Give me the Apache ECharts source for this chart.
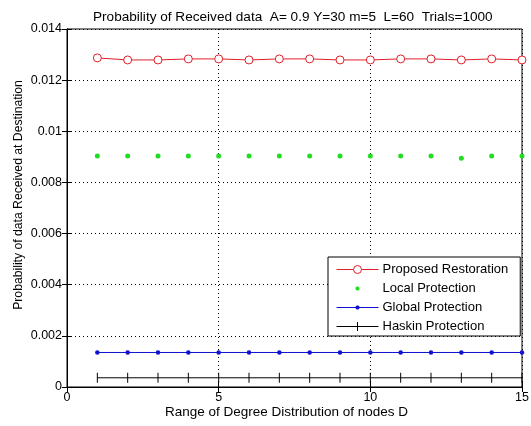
<!DOCTYPE html>
<html><head><meta charset="utf-8">
<script src="https://cdn.jsdelivr.net/npm/echarts@6/dist/echarts.min.js"></script>
<style>html,body{margin:0;padding:0;background:#fff}#c{width:531px;height:426px}</style>
</head><body><div id="c"></div>
<script>
const xValues = [1,2,3,4,5,6,7,8,9,10,11,12,13,14,15];
const proposed = [0.01287,0.01279,0.01279,0.01283,0.01283,0.01279,0.01283,0.01283,0.01279,0.01279,0.01283,0.01283,0.01279,0.01283,0.01279];
const local = [0.00903,0.00903,0.00903,0.00903,0.00903,0.00903,0.00903,0.00903,0.00903,0.00903,0.00903,0.00903,0.00895,0.00903,0.00903];
const globalP = [0.00135,0.00135,0.00135,0.00135,0.00135,0.00135,0.00135,0.00135,0.00135,0.00135,0.00135,0.00135,0.00135,0.00135,0.00135];
const haskin = [0.00036,0.00036,0.00036,0.00036,0.00036,0.00036,0.00036,0.00036,0.00036,0.00036,0.00036,0.00036,0.00036,0.00036,0.00036];
const seriesNames = ['Proposed Restoration','Local Protection','Global Protection','Haskin Protection'];
const titleText = 'Probability of Received data  A= 0.9 Y=30 m=5  L=60  Trials=1000';

const pair = arr => arr.map((v,i)=>[xValues[i], v]);
const font = 'Liberation Sans, Arial, sans-serif';
const chart = echarts.init(document.getElementById('c'), null, {renderer:'canvas'});
const gridLine = {show:true, lineStyle:{color:'#000', type:[1,3], width:1}};
const box = 'M0,0 L0,0 Z M42,10 L42,10 Z ';
const dot = 'M19,4.2 L20.2,3 L21.8,3 L23,4.2 L23,5.8 L21.8,7 L20.2,7 L19,5.8 Z ';
const hline = 'M0,4.5 L42,4.5 L42,5.5 L0,5.5 Z ';
const vtick = 'M20.5,0.5 L21.5,0.5 L21.5,9.5 L20.5,9.5 Z ';
chart.setOption({
  animation:false,
  backgroundColor:'#fff',
  title:{text:titleText, left:88, top:5,
    textStyle:{fontFamily:font, fontSize:13.6, fontWeight:'normal', color:'#000'}},
  grid:{left:67, right:9, top:29, bottom:39, containLabel:false, outerBoundsMode:'none',
    show:true, borderColor:'#000', borderWidth:1},
  legend:{
    orient:'vertical', left:328, top:257, backgroundColor:'#fff', borderColor:'#000', borderWidth:1,
    padding:[6,12,3,8], itemGap:6, itemWidth:42, itemHeight:10,
    textStyle:{fontFamily:font, fontSize:13, color:'#000', padding:[0,0,0,-1]},
    data:[
      {name:seriesNames[0], lineStyle:{width:1}, itemStyle:{borderWidth:1}},
      {name:seriesNames[1], icon:'path://' + box + dot},
      {name:seriesNames[2], icon:'path://' + box + hline + dot},
      {name:seriesNames[3], icon:'path://' + box + hline + vtick}
    ]
  },
  xAxis:[{
    type:'value', min:0, max:15, interval:5,
    axisLine:{show:true, lineStyle:{color:'#000'}},
    axisTick:{show:true, inside:true, length:5, lineStyle:{color:'#000'}},
    axisLabel:{fontFamily:font, fontSize:12.5, color:'#000', margin:4},
    splitLine:gridLine,
    name:'Range of Degree Distribution of nodes D', nameLocation:'middle', nameGap:18,
    nameMoveOverlap:false,
    nameTextStyle:{fontFamily:font, fontSize:13.5, color:'#000', padding:[0,16,0,0]}
  },{
    type:'value', position:'top', min:0, max:15, interval:5,
    axisLine:{show:true, lineStyle:{color:'#000'}},
    axisTick:{show:true, inside:true, length:5, lineStyle:{color:'#000'}},
    axisLabel:{show:false}, splitLine:{show:false}
  }],
  yAxis:[{
    type:'value', min:0, max:0.014, interval:0.002,
    axisLine:{show:true, lineStyle:{color:'#000'}},
    axisTick:{show:true, inside:true, length:5, lineStyle:{color:'#000'}},
    axisLabel:{fontFamily:font, fontSize:12.5, color:'#000', margin:5},
    splitLine:gridLine,
    name:'Probability of data Received at Destination', nameLocation:'middle', nameGap:42,
    nameMoveOverlap:false,
    nameTextStyle:{fontFamily:font, fontSize:12.2, color:'#000', padding:[0,0,0,26]}
  },{
    type:'value', position:'right', min:0, max:0.014, interval:0.002,
    axisLine:{show:true, lineStyle:{color:'#000'}},
    axisTick:{show:true, inside:true, length:5, lineStyle:{color:'#000'}},
    axisLabel:{show:false}, splitLine:{show:false}
  }],
  series:[
    {name:seriesNames[0], type:'line', data:pair(proposed), symbol:'circle', symbolSize:8,
      showAllSymbol:true,
      lineStyle:{color:'#e0202a', width:1}, itemStyle:{color:'#fff', borderColor:'#e0202a', borderWidth:1}, color:'#e0202a'},
    {name:seriesNames[1], type:'line', data:pair(local), symbol:'circle', symbolSize:5,
      lineStyle:{width:0, opacity:0}, itemStyle:{color:'#22dd22', borderWidth:0}, color:'#22dd22'},
    {name:seriesNames[2], type:'line', data:pair(globalP), symbol:'circle', symbolSize:4.5,
      lineStyle:{color:'#1010d0', width:1}, itemStyle:{color:'#1010d0', borderWidth:0}, color:'#1010d0'},
    {name:seriesNames[3], type:'line', data:pair(haskin), symbol:'rect', symbolSize:[1,10],
      lineStyle:{color:'#000', width:1}, itemStyle:{color:'#000', borderWidth:0}, color:'#000'}
  ]
});
</script></body></html>
